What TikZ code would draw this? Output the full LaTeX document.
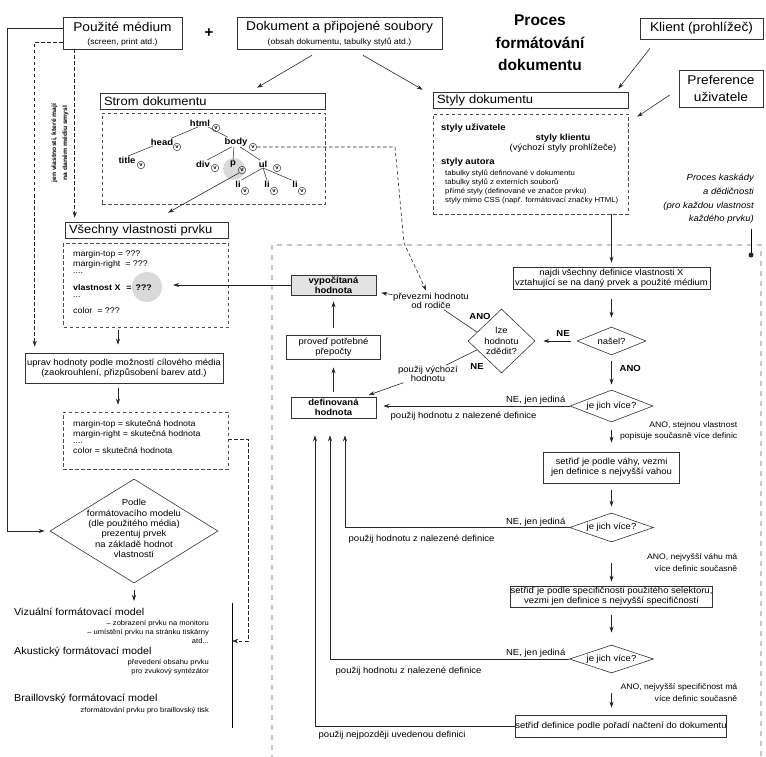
\documentclass[tikz,border=0pt]{standalone}
\usepackage{fontspec}
\setmainfont[FakeStretch=1.08]{Liberation Sans}
\newfontfamily\titlef{Liberation Sans}
\usetikzlibrary{arrows.meta,shapes.geometric,calc}
\newcommand\fbig{\fontsize{12.7}{17}\selectfont}
\newcommand\fmid{\fontsize{12}{14}\selectfont}
\newcommand\fsub{\fontsize{8}{9.5}\selectfont}
\newcommand\fsm{\fontsize{8.8}{10.3}\selectfont}
\newcommand\fln{\fontsize{8.2}{9.5}\selectfont}
\newcommand\flab{\fontsize{8}{11.5}\selectfont}
\newcommand\fxs{\fontsize{7.2}{9.3}\selectfont}
\newcommand\fital{\fontsize{8.8}{13.7}\selectfont\itshape}
\newcommand\fmod{\fontsize{10}{12}\selectfont}
\newcommand\fmsub{\fontsize{7}{9}\selectfont}
\newcommand\frot{\fontsize{6.3}{11}\selectfont\bfseries}
\tikzset{
 box/.style={draw=black!80, line width=0.6pt, rectangle, inner sep=0pt, align=center},
 dbox/.style={draw=black!70, line width=0.6pt, dash pattern=on 3.5pt off 2.5pt, rectangle, inner sep=0pt},
 dia/.style={draw=black!80, line width=0.6pt, diamond, inner sep=0pt, shape aspect=1},
 arr/.style={-{Stealth[length=6pt,width=4pt]}, line width=0.6pt, black!85},
 darr/.style={arr, dash pattern=on 3.5pt off 2.5pt},
 lab/.style={font=\fsm, inner sep=0.5pt},
 line/.style={font=\fln, inner sep=0pt, anchor=base west},
 tn/.style={font=\fsm\bfseries, inner sep=0.5pt},
 vc/.style={circle, draw=black!80, line width=0.5pt, inner sep=0pt, minimum size=7.5pt, font=\fontsize{5.5}{5.5}\selectfont\bfseries},
 tl/.style={line width=0.5pt, black!85},
 graycirc/.style={circle, fill=gray!30, inner sep=0pt},
}
\begin{document}
\begin{tikzpicture}[x=1pt,y=-1pt]
\useasboundingbox (0,0) rectangle (766,757);

% cascade frame
\draw[gray!45, line width=1.5pt, dash pattern=on 5pt off 5pt] (272,760) -- (272,245) -- (761,245) -- (761,760);

% ---------- top ----------
\node[box, minimum width=119pt, minimum height=32pt] (medium) at (122.5,33) {};
\node[font=\fbig, inner sep=0pt] (mediumA) at (122.5,27) {Použité médium};
\node[font=\fsub, inner sep=0pt] (mediumB) at (122.5,42) {(screen, print atd.)};
\node[font=\titlef\bfseries\fontsize{15}{15}\selectfont] (plus) at (209,33) {+};
\node[box, minimum width=205pt, minimum height=32pt] (dok) at (339.5,33) {};
\node[font=\fbig, inner sep=0pt] (dokA) at (339.5,27) {Dokument a připojené soubory};
\node[font=\fsub, inner sep=0pt] (dokB) at (339.5,42) {(obsah dokumentu, tabulky stylů atd.)};
\node[font=\titlef\bfseries\fontsize{15.5}{22.5}\selectfont, align=center] (title) at (540,43) {Proces\\formátování\\dokumentu};
\node[box, minimum width=123pt, minimum height=21pt, font=\fbig] (klient) at (701.5,28.5) {Klient (prohlížeč)};
\node[box, minimum width=84pt, minimum height=37pt, font=\fbig] (pref) at (721,88.5) {Preference\\uživatele};

% ---------- document tree ----------
\node[box, minimum height=16pt, text width=217pt, inner xsep=4pt, align=left, font=\fmid] (stromT) at (212.5,101) {Strom dokumentu};
\node[dbox, minimum width=223pt, minimum height=91pt] (stromD) at (213.5,158.5) {};
\node[graycirc, minimum size=22pt] (pcirc) at (234,169) {};
\node[tn] (html) at (200,123) {html};
\node[tn] (head) at (162,142) {head};
\node[tn] (body) at (236,142) {body};
\node[tn] (titleN) at (127,160) {title};
\node[tn] (div) at (203,164) {div};
\node[tn] (pT) at (233,164) {p};
\node[tn] (ul) at (263,164) {ul};
\node[tn] (li1) at (238,184) {li};
\node[tn] (li2) at (267,184) {li};
\node[tn] (li3) at (295,184) {li};
\node[vc] (vhtml) at (216,128) {v};
\node[vc] (vhead) at (177,147) {v};
\node[vc] (vbody) at (253,147) {v};
\node[vc] (vtitle) at (141,165) {v};
\node[vc] (vdiv) at (215,168) {v};
\node[vc] (vp) at (242,170) {v};
\node[vc] (vul) at (277,168) {v};
\node[vc] (vli1) at (245,191) {v};
\node[vc] (vli2) at (274,191) {v};
\node[vc] (vli3) at (302,191) {v};
\draw[tl] ([xshift=-2pt]html.south) -- ([xshift=-2pt]head.north east);
\draw[tl] ([xshift=8pt]html.south) -- ([xshift=4pt]body.north west);
\draw[tl] ([xshift=-9pt]head.south) -- ([xshift=1pt]titleN.north);
\draw[tl] ([xshift=-4pt]body.south) -- ([xshift=4pt]div.north);
\draw[tl] ([xshift=-2pt]body.south) -- (pT.north);
\draw[tl] ([xshift=4pt]body.south) -- ([xshift=-3pt]ul.north);
\draw[tl] (ul.south) -- (li1.north east);
\draw[tl] (ul.south) -- (li2.north);
\draw[tl] (ul.south) -- (li3.north west);

% ---------- styles ----------
\node[box, minimum height=16pt, text width=187pt, inner xsep=4pt, align=left, font=\fmid] (stylyT) at (530.5,100) {Styly dokumentu};
\node[dbox, minimum width=195pt, minimum height=100pt] (stylyD) at (530.5,164) {};
\node[font=\fsm\bfseries, anchor=west, inner sep=0pt] (suziv) at (441,128) {styly uživatele};
\node[font=\fsm, align=center, inner sep=0pt] (sklient) at (563,143) {\textbf{styly klientu}\\(výchozí styly prohlížeče)};
\node[font=\fsm\bfseries, anchor=west, inner sep=0pt] (sautor) at (441,162) {styly autora};
\node[font=\fxs, anchor=north west, align=left, inner sep=0pt] (slist) at (445,169) {tabulky stylů definované v dokumentu\\tabulky stylů z externích souborů\\přímé styly (definované ve značce prvku)\\styly mimo CSS (např. formátovací značky HTML)};
\node[font=\fital, align=right, anchor=east, inner sep=0pt] (kaskada) at (754,199) {Proces kaskády\\a dědičnosti\\(pro každou vlastnost\\každého prvku)};
\coordinate (dotc) at (751,255);
\draw[line width=0.6pt, shorten <=5pt] (kaskada.south -| dotc) -- (dotc);
\fill[black!85] (dotc) circle (2.5pt);

% ---------- properties ----------
\node[box, minimum height=16pt, text width=155pt, inner xsep=4pt, align=left, font=\fmid] (vsechT) at (146.5,230) {Všechny vlastnosti prvku};
\node[dbox, minimum width=165pt, minimum height=84pt] (propD) at (146,285) {};
\node[graycirc, minimum size=30pt] (qq) at (147,287) {};
\node[line] (p1) at (73,256) {margin-top = ???};
\node[line] (p2) at (73,266) {margin-right\ \ = ???};
\node[line] (p3) at (73,273.5) {....};
\node[line, font=\fln\bfseries] (p4) at (73,290) {vlastnost X\hspace{6pt}=\hspace{4pt}???};
\node[line] (p5) at (73,297.5) {...};
\node[line] (p6) at (73,313) {color\ \ = ???};

\node[box, minimum width=198pt, minimum height=30pt, font=\fsm] (uprav) at (124,368) {uprav hodnoty podle možností cílového média\\(zaokrouhlení, přizpůsobení barev atd.)};

\node[dbox, minimum width=165pt, minimum height=57pt] (skut) at (145.5,440.5) {};
\node[line] (s1) at (73,426) {margin-top = skutečná hodnota};
\node[line] (s2) at (73,436) {margin-right = skutečná hodnota};
\node[line] (s3) at (73,443.5) {....};
\node[line] (s4) at (73,453.5) {color = skutečná hodnota};

\node[dia, minimum width=168pt, minimum height=104pt] (podle) at (134,531) {};
\node[font=\fsm, align=center, inner sep=0pt] (podleT) at (134,528.5) {Podle\\formátovacího modelu\\(dle použitého média)\\prezentuj prvek\\na základě hodnot\\vlastností};
\coordinate (podleout) at (134,601);

\node[font=\fmod, anchor=west, inner sep=0pt] (vizual) at (14,612) {Vizuální formátovací model};
\node[font=\fmsub, anchor=east, align=right, inner sep=0pt] (vizualT) at (209,632) {– zobrazení prvku na monitoru\\– umístění prvku na stránku tiskárny\\atd...};
\node[font=\fmod, anchor=west, inner sep=0pt] (akust) at (14,652) {Akustický formátovací model};
\node[font=\fmsub, anchor=east, align=right, inner sep=0pt] (akustT) at (209,667.5) {převedení obsahu prvku\\pro zvukový syntézátor};
\node[font=\fmod, anchor=west, inner sep=0pt] (braill) at (14,699) {Braillovský formátovací model};
\node[font=\fmsub, anchor=east, inner sep=0pt] (braillT) at (209,711) {zformátování prvku pro braillovský tisk};
\coordinate (bartop) at (232,603);
\coordinate (barbot) at (232,728);
\coordinate (barin) at (232,641);
\draw[line width=0.6pt] (bartop) -- (barbot);

\node[font=\frot, align=center, rotate=90, inner sep=0pt] (onlyT) at (60,143) {jen vlastnosti, které mají\\na daném médiu smysl};

% ---------- cascade ----------
\node[box, minimum width=197pt, minimum height=22pt, font=\fsm] (najdi) at (611.5,278) {najdi všechny definice vlastnosti X\\vztahující se na daný prvek a použité médium};
\node[dia, minimum width=69pt, minimum height=28pt] (nasel) at (611.5,341) {};
\node[lab] (naselT) at (nasel) {našel?};
\node[dia, minimum width=67pt, minimum height=64pt] (lze) at (501.5,341) {};
\node[lab, align=center] (lzeT) at (lze) {lze\\hodnotu\\zdědit?};
\node[box, minimum width=85pt, minimum height=20pt, font=\fsm\bfseries, fill=gray!22] (vyp) at (333.5,285) {vypočítaná\\hodnota};
\node[box, minimum width=94pt, minimum height=24pt, font=\fsm] (provedt) at (333.5,347) {proveď potřebné\\přepočty};
\node[box, minimum width=85pt, minimum height=21pt, font=\fsm\bfseries] (defin) at (333.5,407.5) {definovaná\\hodnota};
\node[dia, minimum width=83pt, minimum height=32pt] (d1) at (611.5,406) {};
\node[lab] (d1T) at (d1) {je jich více?};
\node[box, minimum width=136pt, minimum height=31pt, font=\fsm] (vaha) at (611.5,467.5) {setřiď je podle váhy, vezmi\\jen definice s nejvyšší vahou};
\node[dia, minimum width=84pt, minimum height=29pt] (d2) at (611.5,527.5) {};
\node[lab] (d2T) at (d2) {je jich více?};
\node[box, minimum width=197pt, minimum height=21pt, font=\fsm] (spec) at (611.5,596.5) {setřiď je podle specifičnosti použitého selektoru,\\vezmi jen definice s nejvyšší specifičností};
\node[dia, minimum width=84pt, minimum height=28pt] (d3) at (611.5,659) {};
\node[lab] (d3T) at (d3) {je jich více?};
\node[box, minimum width=198pt, minimum height=22pt, font=\fsm] (poradi) at (621,726) {setřiď definice podle pořadí načtení do dokumentu};

% labels
\node[lab, font=\fsm\bfseries] (ne0) at (563,333) {NE};
\node[lab, font=\fsm\bfseries, anchor=west] (ano0) at (619,368) {ANO};
\node[lab, font=\fsm\bfseries] (anoL) at (480,316) {ANO};
\node[lab, font=\fsm\bfseries] (neL) at (477,366) {NE};
\node[lab, align=center, font=\fontsize{8.8}{9.5}\selectfont] (lblprev) at (431,301) {převezmi hodnotu\\od rodiče};
\node[lab, align=center, font=\fontsize{8.8}{9.5}\selectfont] (lblvych) at (428,374) {použij výchozí\\hodnotu};
\node[lab, anchor=east] (ne1) at (566,400) {NE, jen jediná};
\node[lab, anchor=west] (use1) at (390,416) {použij hodnotu z nalezené definice};
\node[lab, anchor=east, align=right, font=\flab] (ano1) at (738,431) {ANO, stejnou vlastnost\\popisuje současně více definic};
\node[lab, anchor=east] (ne2) at (566,522) {NE, jen jediná};
\node[lab, anchor=west] (use2) at (348,539) {použij hodnotu z nalezené definice};
\node[lab, anchor=east, align=right, font=\flab] (ano2) at (738,562.5) {ANO, nejvyšší váhu má\\více definic současně};
\node[lab, anchor=east] (ne3) at (566,653) {NE, jen jediná};
\node[lab, anchor=west] (use3) at (335,671) {použij hodnotu z nalezené definice};
\node[lab, anchor=east, align=right, font=\flab] (ano3) at (738,692.5) {ANO, nejvyšší specifičnost má\\více definic současně};
\node[lab, anchor=west] (use4) at (318,735) {použij nejpozději uvedenou definici};

% ---------- connectors ----------
\draw[arr] ([shift={(-27.5,6)}]dok.south) -- ([shift={(44.5,-5)}]stromT.north);
\draw[arr] ([shift={(23.5,6)}]dok.south) -- ([shift={(-10,-2)}]stylyT.north west);
\draw[arr] ([shift={(-51.5,9)}]klient.south) -- ([shift={(-10,-3)}]stylyT.north east);
\draw[arr] ([shift={(-9,6.5)}]pref.west) -- ([shift={(9,3)}]stylyD.north east);
\draw[arr] (vp.south west) -- ([shift={(21.5,-9)}]vsechT.north);
\draw[arr, shorten >=4pt] (stylyD.south -| najdi.north) -- (najdi.north);
\draw[arr, shorten <=10pt, shorten >=9pt] (najdi.south) -- (nasel.north);
\draw[arr, shorten <=6pt, shorten >=8pt] (nasel.west) -- (lze.east);
\draw[arr, shorten <=6pt, shorten >=5pt] (nasel.south) -- (d1.north);
\draw[arr, shorten >=7pt] (d1.west) -- (d1.west -| defin.east);
\draw[arr, shorten <=8pt, shorten >=9pt] (d1.south) -- (vaha.north);
\draw[arr, shorten <=7pt, shorten >=6pt] (vaha.south) -- (d2.north);
\draw[arr, shorten >=17pt] (d2.west) -| ([xshift=11.5pt]defin.south);
\draw[arr, shorten <=21pt, shorten >=4pt] (d2.south) -- (spec.north);
\draw[arr, shorten <=8pt, shorten >=12pt] (spec.south) -- (d3.north);
\draw[arr, shorten >=17pt] (d3.west) -| ([xshift=-3.5pt]defin.south);
\draw[arr, shorten <=20pt, shorten >=7pt] (d3.south) -- (d3.south |- poradi.north);
\draw[arr, shorten >=17pt] (poradi.west) -| ([xshift=-18.5pt]defin.south);
\draw[arr, shorten <=5pt, shorten >=8pt] (defin.north) -- (provedt.south);
\draw[arr, shorten <=7pt, shorten >=6pt] (provedt.north) -- (vyp.south);
\draw[line width=0.6pt, black!85] (lze.160) -- (lblprev);
\draw[arr, shorten >=5pt] (lblprev) -- (vyp);
\draw[line width=0.6pt, black!85] (lze.200) -- (lblvych);
\draw[arr, shorten >=5pt] (lblvych) -- (defin);
\draw[arr, shorten >=11pt] (vyp.west) -- (vyp.west -| qq.east);
\coordinate (bend1) at (395,147);
\coordinate (bend2) at (404,243);
\draw[darr, shorten >=2pt] (vbody.east) -- (bend1) -- (bend2) -- (lblprev);
\draw[darr, shorten >=6pt] ([yshift=-9pt]medium.west) -| ([xshift=10pt]uprav.north west);
\draw[darr, shorten >=4pt] ([xshift=12pt]medium.south west) -- ([xshift=10pt]vsechT.north west);
\draw[arr, shorten >=5pt] ([yshift=5pt]medium.west) -- ++(-55,0) |- (podle.west);
\draw[arr, shorten <=3pt, shorten >=8pt] ([xshift=-28pt]propD.south) -- ([xshift=-6pt]uprav.north);
\draw[arr, shorten <=5pt, shorten >=7pt] ([xshift=-6pt]uprav.south) -- ([xshift=-27.5pt]skut.north);
\draw[darr] ([yshift=1.5pt]skut.east) -- ++(20,0) |- (barin);
\draw[arr, shorten <=7pt] (podle.south) -- (podleout);
\end{tikzpicture}
\end{document}
